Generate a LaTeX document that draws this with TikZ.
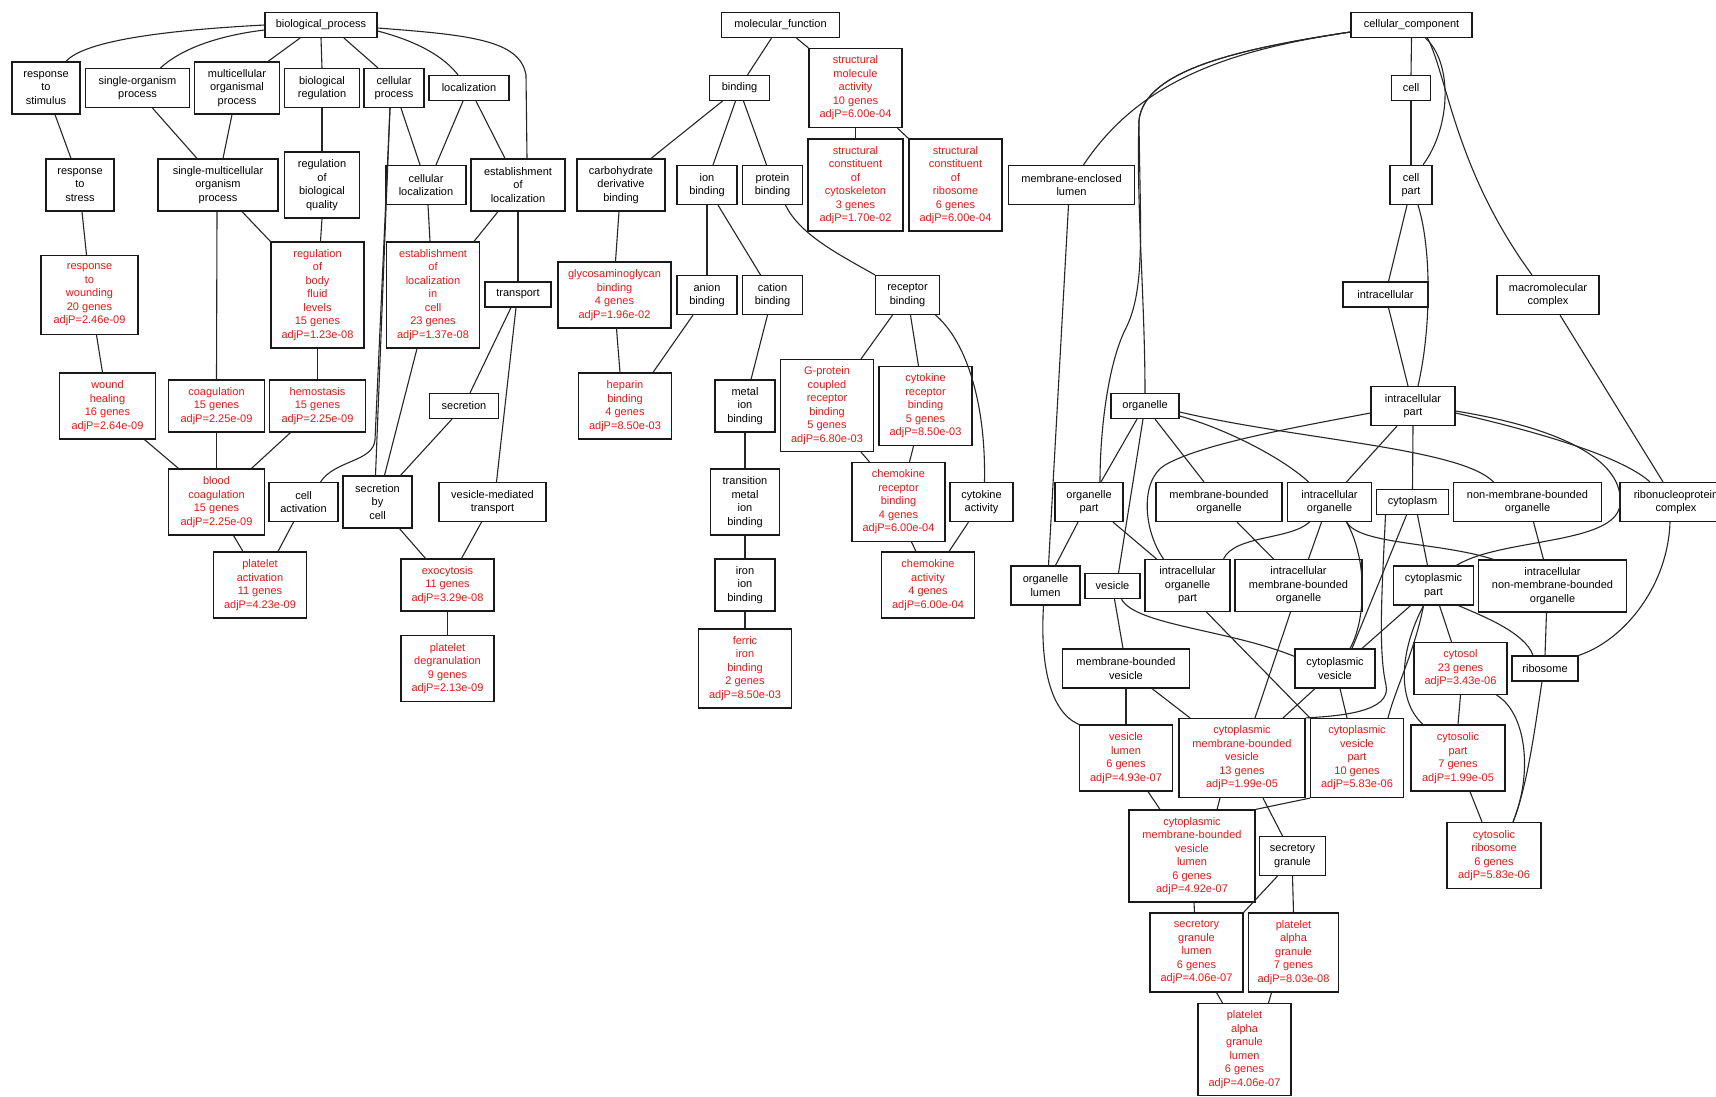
\documentclass[tikz,border=0pt]{standalone}
\usepackage{fontspec}
\setmainfont{Liberation Sans}
\definecolor{gored}{RGB}{232,22,22}
\newcommand\gofont{\fontsize{11}{13.5}\selectfont}
\newcommand\nb[6]{\node[gobox,minimum width=#4pt,minimum height=#5pt] (#1) at (#2,#3) {#6};}
\newcommand\nr[6]{\node[gobox,text=gored,minimum width=#4pt,minimum height=#5pt] (#1) at (#2,#3) {#6};}
\begin{document}
\begin{tikzpicture}[x=1pt,y=-1pt,
  gobox/.style={draw=black!90,line width=1.2pt,inner sep=0pt,align=center,font=\gofont},
  edgeln/.style={line width=1.1pt,draw=black!85}]
\fill[white] (0,0) rectangle (1716,1096);
\useasboundingbox (0,0) rectangle (1716,1096);
\clip (0,0) rectangle (1716,1096);
% ---------- biological process ----------
\nb{bp}{321}{25}{112}{25}{biological\_process}
\nb{rstim}{46}{88}{68}{52}{response\\to\\stimulus}
\nb{sop}{137.5}{88}{104}{39}{single-organism\\process}
\nb{mop}{237}{88}{85}{52}{multicellular\\organismal\\process}
\nb{breg}{322}{88}{75}{39}{biological\\regulation}
\nb{cproc}{394}{88}{60}{39}{cellular\\process}
\nb{loc}{469}{88}{80}{25}{localization}
\nb{rstress}{80}{185}{68}{52}{response\\to\\stress}
\nb{smop}{218}{185}{120}{52}{single-multicellular\\organism\\process}
\nb{rbq}{322}{185}{75}{66}{regulation\\of\\biological\\quality}
\nb{cloc}{426}{185}{80}{39}{cellular\\localization}
\nb{estloc}{518}{185}{94}{52}{establishment\\of\\localization}
\nr{rwound}{89.5}{295}{97}{79}{response\\to\\wounding\\20 genes\\adjP=2.46e-09}
\nr{rbfl}{317.5}{295}{93}{106}{regulation\\of\\body\\fluid\\levels\\15 genes\\adjP=1.23e-08}
\nr{estcell}{433}{295}{93}{106}{establishment\\of\\localization\\in\\cell\\23 genes\\adjP=1.37e-08}
\nb{transport}{518}{294.5}{66}{25}{transport}
\nr{wheal}{107.5}{406}{96}{66}{wound\\healing\\16 genes\\adjP=2.64e-09}
\nr{coag}{216.5}{406}{96}{52}{coagulation\\15 genes\\adjP=2.25e-09}
\nr{hemo}{317.5}{406}{96}{52}{hemostasis\\15 genes\\adjP=2.25e-09}
\nb{secretion}{464}{406}{69}{25}{secretion}
\nr{bcoag}{216.5}{502}{96}{66}{blood\\coagulation\\15 genes\\adjP=2.25e-09}
\nb{cellact}{303.5}{502}{69}{39}{cell\\activation}
\nb{secbycell}{377.5}{502}{69}{52}{secretion\\by\\cell}
\nb{vmt}{492.5}{502}{107}{39}{vesicle-mediated\\transport}
\nr{pact}{260}{585}{93}{66}{platelet\\activation\\11 genes\\adjP=4.23e-09}
\nr{exo}{447.5}{585}{93}{52}{exocytosis\\11 genes\\adjP=3.29e-08}
\nr{pdeg}{447.5}{668.5}{93}{66}{platelet\\degranulation\\9 genes\\adjP=2.13e-09}
% ---------- molecular function ----------
\nb{mf}{780.5}{25}{118}{25}{molecular\_function}
\nb{binding}{739.5}{88}{60}{25}{binding}
\nr{sma}{855.5}{88}{93}{79}{structural\\molecule\\activity\\10 genes\\adjP=6.00e-04}
\nb{cdb}{621}{185}{88}{52}{carbohydrate\\derivative\\binding}
\nb{ionb}{707}{185}{60}{39}{ion\\binding}
\nb{protb}{772.5}{185}{60}{39}{protein\\binding}
\nr{scc}{855.5}{185}{95}{92}{structural\\constituent\\of\\cytoskeleton\\3 genes\\adjP=1.70e-02}
\nr{scr}{955.5}{185}{93}{92}{structural\\constituent\\of\\ribosome\\6 genes\\adjP=6.00e-04}
\nr{gagb}{614.5}{295}{113}{66}{glycosaminoglycan\\binding\\4 genes\\adjP=1.96e-02}
\nb{anionb}{707}{295}{60}{39}{anion\\binding}
\nb{cationb}{772.5}{295}{60}{39}{cation\\binding}
\nb{recb}{907.5}{295}{64}{39}{receptor\\binding}
\nr{heparin}{625}{406}{93}{66}{heparin\\binding\\4 genes\\adjP=8.50e-03}
\nb{metalion}{745}{406}{60}{52}{metal\\ion\\binding}
\nr{gpcr}{827}{405.5}{93}{92}{G-protein\\coupled\\receptor\\binding\\5 genes\\adjP=6.80e-03}
\nr{crb}{925.5}{406}{93}{79}{cytokine\\receptor\\binding\\5 genes\\adjP=8.50e-03}
\nb{tmib}{745}{502}{69}{66}{transition\\metal\\ion\\binding}
\nr{chemrb}{898.5}{502}{93}{79}{chemokine\\receptor\\binding\\4 genes\\adjP=6.00e-04}
\nb{cytact}{981.5}{502}{63}{39}{cytokine\\activity}
\nb{ironib}{745}{585}{60}{52}{iron\\ion\\binding}
\nr{chemact}{928}{585}{93}{66}{chemokine\\activity\\4 genes\\adjP=6.00e-04}
\nr{ferric}{745}{668.5}{93}{79}{ferric\\iron\\binding\\2 genes\\adjP=8.50e-03}
% ---------- cellular component ----------
\nb{cc}{1411.5}{25}{121}{25}{cellular\_component}
\nb{cell}{1411}{88}{39}{25}{cell}
\nb{cellpart}{1411}{185}{42}{39}{cell\\part}
\nb{mel}{1071.5}{185}{126}{39}{membrane-enclosed\\lumen}
\nb{intracellular}{1385.5}{294.5}{85}{25}{intracellular}
\nb{macro}{1548}{295}{102}{39}{macromolecular\\complex}
\nb{organelle}{1145}{406}{68}{25}{organelle}
\nb{ip}{1413}{406}{84}{39}{intracellular\\part}
\nb{opart}{1089}{502}{68}{39}{organelle\\part}
\nb{mbo}{1219}{502}{126}{39}{membrane-bounded\\organelle}
\nb{io}{1329.5}{502}{84}{39}{intracellular\\organelle}
\nb{cytoplasm}{1412.5}{502}{72}{25}{cytoplasm}
\nb{nmbo}{1527.5}{502}{148}{39}{non-membrane-bounded\\organelle}
\nb{rnpc}{1676}{502}{112}{39}{ribonucleoprotein\\complex}
\nb{olumen}{1045.5}{585.5}{69}{39}{organelle\\lumen}
\nb{vesicle}{1112.5}{586}{55}{25}{vesicle}
\nb{iop}{1187.5}{585.5}{85}{52}{intracellular\\organelle\\part}
\nb{imbo}{1298.5}{585.5}{127}{52}{intracellular\\membrane-bounded\\organelle}
\nb{cp}{1433.5}{585.5}{80}{39}{cytoplasmic\\part}
\nb{inmbo}{1552.5}{586}{148}{52}{intracellular\\non-membrane-bounded\\organelle}
\nb{mbv}{1126}{668.5}{127}{39}{membrane-bounded\\vesicle}
\nb{cv}{1335}{668.5}{80}{39}{cytoplasmic\\vesicle}
\nr{cytosol}{1460.5}{668.5}{93}{52}{cytosol\\23 genes\\adjP=3.43e-06}
\nb{ribosome}{1545}{668.5}{66}{25}{ribosome}
\nr{vl}{1126}{758}{93}{66}{vesicle\\lumen\\6 genes\\adjP=4.93e-07}
\nr{cmbv}{1242}{758}{126}{79}{cytoplasmic\\membrane-bounded\\vesicle\\13 genes\\adjP=1.99e-05}
\nr{cvp}{1357}{758}{93}{79}{cytoplasmic\\vesicle\\part\\10 genes\\adjP=5.83e-06}
\nr{cytpart}{1458}{758}{94}{66}{cytosolic\\part\\7 genes\\adjP=1.99e-05}
\nr{cmbvl}{1192}{856}{126}{92}{cytoplasmic\\membrane-bounded\\vesicle\\lumen\\6 genes\\adjP=4.92e-07}
\nb{sg}{1292.5}{856}{66}{39}{secretory\\granule}
\nr{cribo}{1494}{855.5}{94}{66}{cytosolic\\ribosome\\6 genes\\adjP=5.83e-06}
\nr{sgl}{1196.5}{952.5}{93}{79}{secretory\\granule\\lumen\\6 genes\\adjP=4.06e-07}
\nr{pag}{1293.5}{952.5}{90}{79}{platelet\\alpha\\granule\\7 genes\\adjP=8.03e-08}
\nr{pagl}{1244.5}{1049.5}{93}{92}{platelet\\alpha\\granule\\lumen\\6 genes\\adjP=4.06e-07}
% ---------- edges: biological process ----------
\begin{scope}[edgeln]
\draw (bp.west) .. controls (170,30) and (85,40) .. ([xshift=20pt]rstim.north);
\draw ([yshift=-5pt]bp.west) .. controls (215,36) and (180,50) .. ([xshift=23pt]sop.north);
\draw ([xshift=-21pt]bp.south) -- ([xshift=31pt]mop.north);
\draw (bp.south) -- (breg.north);
\draw ([xshift=23pt]bp.south) -- ([xshift=-16pt]cproc.north);
\draw ([yshift=-6pt]bp.east) .. controls (420,42) and (445,58) .. ([xshift=-11pt]loc.north);
\draw ([yshift=-3pt]bp.east) .. controls (470,35) and (520,40) .. (526,75) -- ([xshift=9pt]estloc.north);
\draw ([xshift=9pt]rstim.south) -- ([xshift=-9pt]rstress.north);
\draw ([xshift=15pt]sop.south) -- ([xshift=-21pt]smop.north);
\draw ([xshift=-5pt]mop.south) -- ([xshift=5pt]smop.north);
\draw (breg.south) -- (rbq.north);
\draw ([xshift=7pt]cproc.south) -- ([xshift=-6pt]cloc.north);
\draw ([xshift=-6pt]loc.south) -- ([xshift=10pt]cloc.north);
\draw ([xshift=7pt]loc.south) -- ([xshift=-13pt]estloc.north);
\draw ([xshift=2pt]rstress.south) -- ([xshift=-3pt]rwound.north);
\draw ([xshift=-1pt]smop.south) -- (coag.north);
\draw ([xshift=24pt]smop.south) -- (rbfl.north west);
\draw (rbq.south) -- ([xshift=3pt]rbfl.north);
\draw ([xshift=2pt]cloc.south) -- ([xshift=-3pt]estcell.north);
\draw ([xshift=-20pt]estloc.south) -- ([xshift=41pt]estcell.north);
\draw (estloc.south) -- (transport.north);
\draw ([xshift=7pt]rwound.south) -- ([xshift=-5pt]wheal.north);
\draw (rbfl.south) -- (hemo.north);
\draw ([xshift=-16pt]estcell.south) -- ([xshift=7pt]secbycell.north);
\draw ([xshift=-7pt]transport.south) -- ([xshift=6pt]secretion.north);
\draw ([xshift=-2pt]transport.south) -- ([xshift=4pt]vmt.north);
\draw ([xshift=-4pt]cproc.south) -- (375,440) .. controls (373,462) and (335,460) .. ([xshift=17pt]cellact.north);
\draw ([xshift=-4pt]cproc.south) -- ([xshift=-2pt]secbycell.north);
\draw ([xshift=37pt]wheal.south) -- ([xshift=-38pt]bcoag.north);
\draw (coag.south) -- (bcoag.north);
\draw ([xshift=-27pt]hemo.south) -- ([xshift=35pt]bcoag.north);
\draw ([xshift=17pt]bcoag.south) -- ([xshift=-17pt]pact.north);
\draw ([xshift=-10pt]cellact.south) -- ([xshift=18pt]pact.north);
\draw ([xshift=-12pt]secretion.south) -- ([xshift=23pt]secbycell.north);
\draw ([xshift=22pt]secbycell.south) -- ([xshift=-22pt]exo.north);
\draw ([xshift=-11pt]vmt.south) -- ([xshift=14pt]exo.north);
\draw (exo.south) -- (pdeg.north);
% ---------- edges: molecular function ----------
\draw ([xshift=-9pt]mf.south) -- ([xshift=8pt]binding.north);
\draw ([xshift=16pt]mf.south) -- (sma.north west);
\draw ([xshift=-17pt]binding.south) -- ([xshift=30pt]cdb.north);
\draw ([xshift=-4pt]binding.south) -- ([xshift=6pt]ionb.north);
\draw ([xshift=4pt]binding.south) -- ([xshift=-6pt]protb.north);
\draw (sma.south) -- (scc.north);
\draw ([xshift=42pt]sma.south) -- (scr.north west);
\draw ([xshift=-2pt]cdb.south) -- ([xshift=1pt]gagb.north);
\draw (ionb.south) -- (anionb.north);
\draw ([xshift=11pt]ionb.south) -- ([xshift=-12pt]cationb.north);
\draw ([xshift=13pt]protb.south) .. controls (800,235) and (840,255) .. (recb.north west);
\draw ([xshift=2pt]gagb.south) -- ([xshift=-5pt]heparin.north);
\draw ([xshift=-14pt]anionb.south) -- ([xshift=28pt]heparin.north);
\draw ([xshift=-5pt]cationb.south) -- ([xshift=6pt]metalion.north);
\draw ([xshift=-15pt]recb.south) -- ([xshift=34pt]gpcr.north);
\draw ([xshift=3pt]recb.south) -- ([xshift=-7pt]crb.north);
\draw ([xshift=28pt]recb.south) .. controls (965,340) and (986,400) .. ([xshift=3pt]cytact.north);
\draw (metalion.south) -- (tmib.north);
\draw (tmib.south) -- (ironib.north);
\draw (ironib.south) -- (ferric.north);
\draw ([xshift=34pt]gpcr.south) -- ([xshift=-29pt]chemrb.north);
\draw ([xshift=-12pt]crb.south) -- ([xshift=11pt]chemrb.north);
\draw ([xshift=13pt]chemrb.south) -- ([xshift=-12pt]chemact.north);
\draw ([xshift=-13pt]cytact.south) -- ([xshift=21pt]chemact.north);
% ---------- edges: cellular component ----------
\draw (cc.south) -- (cell.north);
\draw (cell.south) -- (cellpart.north);
\draw ([xshift=14pt]cc.south) .. controls (1452,62) and (1452,125) .. ([xshift=12pt]cellpart.north);
\draw ([xshift=16pt]cc.south) .. controls (1447,75) and (1455,170) .. ([xshift=-16pt]macro.north);
\draw ([yshift=-7pt]cc.west) .. controls (1230,50) and (1140,80) .. ([xshift=12pt]mel.north);
\draw ([yshift=-7pt]cc.west) .. controls (1230,50) and (1145,72) .. (1139,120) .. controls (1136,200) and (1145,300) .. (organelle.north);
\draw ([yshift=-7pt]cc.west) .. controls (1230,50) and (1145,72) .. (1139,120) .. controls (1140,230) and (1146,290) .. (1125,330) .. controls (1108,365) and (1100,430) .. ([xshift=11pt]opart.north);
\draw ([xshift=-3pt]mel.south) -- ([xshift=3pt]olumen.north);
\draw ([xshift=-4pt]cellpart.south) -- ([xshift=3pt]intracellular.north);
\draw ([xshift=7pt]cellpart.south) .. controls (1432,250) and (1431,330) .. ([xshift=5pt]ip.north);
\draw ([xshift=3pt]intracellular.south) -- ([xshift=-5pt]ip.north);
\draw ([xshift=12pt]macro.south) -- ([xshift=-13pt]rnpc.north);
\draw ([xshift=-8pt]organelle.south) -- ([xshift=12pt]opart.north);
\draw ([xshift=-2pt]organelle.south) -- ([xshift=6pt]vesicle.north);
\draw ([xshift=10pt]organelle.south) -- ([xshift=-15pt]mbo.north);
\draw ([yshift=-10pt]organelle.east) .. controls (1230,430) and (1285,460) .. ([xshift=-21pt]io.north);
\draw ([yshift=-6pt]organelle.east) .. controls (1300,440) and (1460,448) .. ([xshift=-34pt]nmbo.north);
\draw ([yshift=-7pt]ip.west) .. controls (1280,430) and (1200,445) .. (1165,465) .. controls (1140,480) and (1143,530) .. ([xshift=-24pt]iop.north);
\draw ([xshift=-16pt]ip.south) -- ([xshift=17pt]io.north);
\draw (ip.south) -- (cytoplasm.north);
\draw ([yshift=-7pt]ip.east) .. controls (1530,430) and (1620,455) .. ([xshift=-26pt]rnpc.north);
\draw ([yshift=-5pt]ip.east) .. controls (1560,428) and (1625,460) .. (1620,505) .. controls (1615,545) and (1500,538) .. ([xshift=23pt]cp.north);
\draw ([xshift=-11pt]opart.south) -- ([xshift=10pt]olumen.north);
\draw ([xshift=24pt]opart.south) -- ([xshift=-31pt]iop.north);
\draw ([xshift=18pt]mbo.south) -- ([xshift=-25pt]imbo.north);
\draw ([xshift=-20pt]io.south) .. controls (1290,540) and (1235,535) .. ([xshift=36pt]iop.north);
\draw ([xshift=-8pt]io.south) -- ([xshift=10pt]imbo.north);
\draw ([xshift=17pt]io.south) .. controls (1360,545) and (1440,542) .. ([xshift=-59pt]inmbo.north);
\draw ([xshift=17pt]io.south) .. controls (1368,560) and (1366,620) .. ([xshift=15pt]cv.north);
\draw ([xshift=-6pt]cytoplasm.south) -- ([xshift=17pt]cv.north);
\draw ([xshift=5pt]cytoplasm.south) -- ([xshift=-6pt]cp.north);
\draw ([xshift=-27pt]cytoplasm.south) .. controls (1382,590) and (1378,650) .. (1386,685) .. controls (1392,712) and (1340,716) .. (cmbv.north east);
\draw ([xshift=2pt]vesicle.south) -- ([xshift=-3pt]mbv.north);
\draw ([xshift=9pt]vesicle.south) .. controls (1135,625) and (1230,630) .. ([yshift=-8pt]cv.north west);
\draw ([xshift=19pt]iop.south) -- (cvp.north west);
\draw ([xshift=-8pt]imbo.south) -- ([xshift=13pt]cmbv.north);
\draw ([xshift=-20pt]cv.south) -- ([xshift=41pt]cmbv.north);
\draw ([xshift=5pt]cv.south) -- ([xshift=-10pt]cvp.north);
\draw (mbv.south) -- (vl.north);
\draw ([xshift=26pt]mbv.south) -- ([xshift=-52pt]cmbv.north);
\draw ([xshift=-2pt]olumen.south) .. controls (1040,665) and (1050,712) .. (vl.north west);
\draw ([xshift=22pt]vl.south) -- ([xshift=-32pt]cmbvl.north);
\draw ([xshift=-22pt]cmbv.south) -- ([xshift=25pt]cmbvl.north);
\draw ([xshift=21pt]cmbv.south) -- ([xshift=-10pt]sg.north);
\draw (cvp.south west) -- (cmbvl.north east);
\draw ([xshift=-15pt]sg.south) -- (sgl.north east);
\draw (sg.south) -- (pag.north);
\draw ([xshift=2pt]cmbvl.south) -- ([xshift=-2pt]sgl.north);
\draw ([xshift=20pt]sgl.south) -- ([xshift=-22pt]pagl.north);
\draw ([xshift=-22pt]pag.south) -- ([xshift=24pt]pagl.north);
\draw ([xshift=-23pt]cp.south) -- ([xshift=27pt]cv.north);
\draw ([xshift=-10pt]cp.south) .. controls (1415,650) and (1395,690) .. ([xshift=31pt]cvp.north);
\draw ([xshift=6pt]cp.south) -- ([xshift=-9pt]cytosol.north);
\draw ([xshift=25pt]cp.south) .. controls (1480,615) and (1525,632) .. ([xshift=-12pt]ribosome.north);
\draw ([xshift=-10pt]cp.south) .. controls (1400,650) and (1396,700) .. ([xshift=-35pt]cytpart.north);
\draw (cytosol.south) -- (cytpart.north);
\draw ([xshift=36pt]cytosol.south) .. controls (1525,712) and (1534,770) .. ([xshift=19pt]cribo.north);
\draw ([xshift=-3pt]ribosome.south) .. controls (1536,720) and (1528,785) .. ([xshift=19pt]cribo.north);
\draw ([xshift=12pt]cytpart.south) -- ([xshift=-12pt]cribo.north);
\draw ([xshift=-6pt]rnpc.south) .. controls (1668,585) and (1625,640) .. (ribosome.north east);
\draw ([xshift=-6pt]inmbo.south) -- (ribosome.north);
\draw ([xshift=6pt]nmbo.south) -- ([xshift=-9pt]inmbo.north);
\end{scope}
\end{tikzpicture}
\end{document}
